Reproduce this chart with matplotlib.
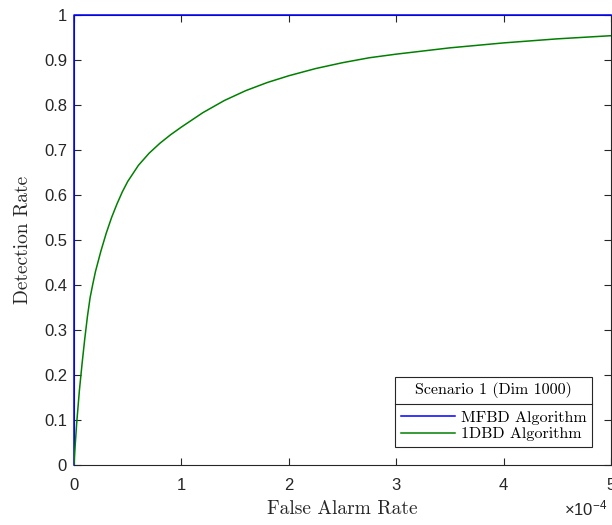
import matplotlib
matplotlib.use('Agg')
import matplotlib.pyplot as plt
from matplotlib.ticker import FuncFormatter, ScalarFormatter
from matplotlib.lines import Line2D
import numpy as np

# false alarm rate (x, in units of 1e-4) and detection rate (y)
far_mfbd = [0.0, 0.0, 5.0]
pd_mfbd = [0.0, 1.0, 1.0]

far_1dbd = [0.0, 0.01, 0.025, 0.05, 0.075, 0.1, 0.125, 0.15, 0.175, 0.2,
            0.25, 0.3, 0.35, 0.4, 0.45, 0.5, 0.6, 0.7, 0.8, 0.9, 1.0, 1.2,
            1.4, 1.6, 1.8, 2.0, 2.25, 2.5, 2.75, 3.0, 3.5, 4.0, 4.5, 5.0]
pd_1dbd = [0.0, 0.04, 0.093, 0.165, 0.225, 0.28, 0.33, 0.372, 0.402, 0.43,
           0.475, 0.515, 0.55, 0.58, 0.607, 0.63, 0.666, 0.693, 0.715,
           0.734, 0.751, 0.783, 0.81, 0.832, 0.85, 0.865, 0.881, 0.894,
           0.905, 0.913, 0.927, 0.938, 0.947, 0.954]
scale = 1e-4

legend_title = 'Scenario 1 (Dim 1000)'
series_names = ['MFBD Algorithm', '1DBD Algorithm']

plt.rcParams['font.family'] = ['Liberation Sans', 'DejaVu Sans']
plt.rcParams['mathtext.fontset'] = 'custom'
plt.rcParams['mathtext.rm'] = 'Liberation Sans'
plt.rcParams['mathtext.it'] = 'Liberation Sans'
serif = 'cmr10'
ink = '#262626'

fig = plt.figure(figsize=(6.12, 5.25), dpi=100)
ax = fig.add_axes([74 / 612, 60 / 525, 537 / 612, 450 / 525])

ax.plot(np.array(far_mfbd) * scale, pd_mfbd, color=(0, 0, 1), lw=1.1,
        label=series_names[0], zorder=3, clip_on=False)
ax.plot(np.array(far_1dbd) * scale, pd_1dbd, color=(0, 0.5, 0), lw=1.1,
        label=series_names[1], zorder=3)

ax.set_xlim(0, 5e-4)
ax.set_ylim(0, 1)
ax.set_xticks(np.arange(0, 5.01e-4, 1e-4))
ax.set_yticks(np.arange(0, 1.01, 0.1))

fmt = ScalarFormatter(useMathText=True)
fmt.set_powerlimits((0, 0))
ax.xaxis.set_major_formatter(fmt)
ax.xaxis.get_offset_text().set_visible(False)
ax.yaxis.set_major_formatter(FuncFormatter(lambda v, p: '%g' % round(v, 2)))

ax.tick_params(direction='in', top=True, right=True, labelsize=12,
               length=5, width=0.8, colors=ink)
ax.tick_params(axis='x', pad=9)
ax.tick_params(axis='y', pad=5)
for s in ax.spines.values():
    s.set_color(ink)
    s.set_linewidth(0.8)

fig.text(0.992, 10 / 525, r'$\times\mathregular{10^{-4}}$', ha='right',
         va='baseline', fontsize=12, color=ink)

ax.set_xlabel('False Alarm Rate', fontfamily=serif, fontsize=14, color=ink)
ax.set_ylabel('Detection Rate', fontfamily=serif, fontsize=14, color=ink)
ax.xaxis.set_label_coords(0.5, -0.077)
ax.yaxis.set_label_coords(-0.079, 0.5)

leg = ax.legend(title=legend_title, loc='lower right',
                bbox_to_anchor=(592 / 612, (525 - 447) / 525),
                bbox_transform=fig.transFigure,
                prop={'family': serif, 'size': 11.5},
                title_fontproperties={'family': serif, 'size': 11.5},
                fancybox=False, edgecolor=ink, framealpha=1,
                handlelength=3.4, handletextpad=0.35, borderpad=0.35,
                labelspacing=0.15, borderaxespad=0)
leg.get_frame().set_linewidth(0.8)
leg._legend_box.sep = 9

# separator line between legend title and entries (MATLAB style)
fig.canvas.draw()
r = fig.canvas.get_renderer()
W, H = fig.bbox.width, fig.bbox.height
fb = leg.get_frame().get_window_extent(r)
tb = leg.get_title().get_window_extent(r)
hb = leg._legend_handle_box.get_window_extent(r)
ysep = (tb.y0 + hb.y1) / 2 / H
fig.add_artist(Line2D([fb.x0 / W, fb.x1 / W], [ysep, ysep], color=ink, lw=0.8))

fig.savefig('out.png', dpi=100)
